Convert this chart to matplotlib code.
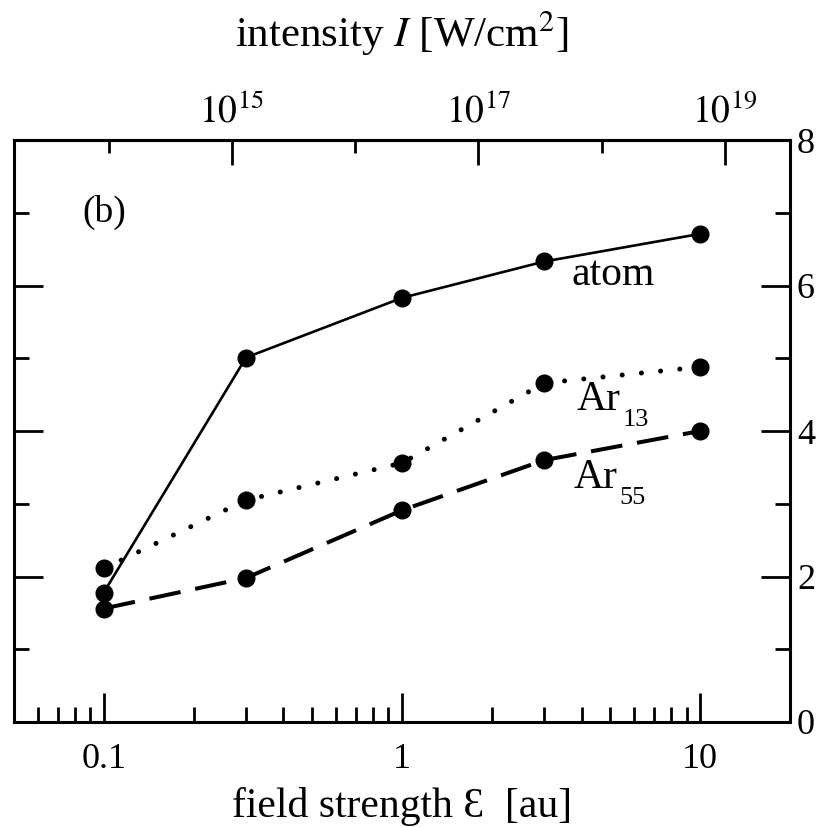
import numpy as np
import matplotlib
matplotlib.use("Agg")
import matplotlib.pyplot as plt
from matplotlib.ticker import FixedLocator, NullFormatter, LogLocator

# field strength in atomic units
field = [0.1, 0.3, 1, 3, 10]
# mean values for the isolated atom and the two clusters
atom = [1.78, 5.01, 5.83, 6.33, 6.71]
ar13 = [2.11, 3.05, 3.56, 4.66, 4.88]
ar55 = [1.56, 1.98, 2.91, 3.60, 4.00]

x_ticks = [0.1, 1, 10]
x_ticklabels = ["0.1", "1", "10"]
y_major = [0, 2, 4, 6, 8]
y_minor = [1, 3, 5, 7]
intensity_major = [1e15, 1e17, 1e19]
intensity_labels = [r"$10^{15}$", r"$10^{17}$", r"$10^{19}$"]
intensity_minor = [1e14, 1e16, 1e18]

plt.rcParams["font.family"] = ["Liberation Serif", "DejaVu Serif"]
plt.rcParams["mathtext.fontset"] = "stix"

fig = plt.figure(figsize=(8.32, 8.27), dpi=100)
ax = fig.add_axes([14 / 832, 1 - 722 / 827, 776 / 832, 582 / 827])
ax.set_xscale("log")
ax.set_xlim(0.05, 20)
ax.set_ylim(0, 8)

lw_axis = 2.2
for s in ax.spines.values():
    s.set_linewidth(lw_axis)

ax.plot(field, atom, "-", color="black", lw=1.9, marker="o", ms=12,
        solid_capstyle="round")
ax.plot(field, ar13, color="black", lw=3.6, marker="o", ms=12,
        linestyle=(0, (0.01, 3.85)), dash_capstyle="round")
ax.plot(field, ar55, color="black", lw=2.9, marker="o", ms=12,
        linestyle=(0, (7.9, 3.7)), dash_capstyle="butt")

lab_size = 30
sub_size = 19
ax.text(3.71, 6.01, "atom", ha="left", va="baseline", fontsize=lab_size)
for x0, y0, sub in [(3.85, 4.29, "13"), (3.77, 3.21, "55")]:
    t = ax.text(x0, y0, "Ar", ha="left", va="baseline", fontsize=lab_size)
    ax.annotate(sub, xy=(1.0, 0.0), xycoords=t, xytext=(1.5, -5),
                textcoords="offset points", ha="left", va="baseline",
                fontsize=sub_size)
ax.text(0.1, 7.0, "(b)", ha="center", va="center", fontsize=27)

# bottom axis: field strength
ax.set_xticks(x_ticks, labels=x_ticklabels)
ax.xaxis.set_minor_locator(LogLocator(base=10, subs=np.arange(2, 10)))
ax.xaxis.set_minor_formatter(NullFormatter())
ax.tick_params(axis="x", which="both", direction="in", top=False,
               bottom=True, labelsize=26, pad=15)
ax.tick_params(axis="x", which="major", length=21, width=2)
ax.tick_params(axis="x", which="minor", length=10.5, width=2)

# y axis: ticks on both sides, labels on the right
ax.set_yticks(y_major)
ax.yaxis.set_minor_locator(FixedLocator(y_minor))
ax.tick_params(axis="y", which="both", direction="in", left=True,
               right=True, labelleft=False, labelright=True,
               labelsize=26, pad=5)
ax.tick_params(axis="y", which="major", length=21, width=2)
ax.tick_params(axis="y", which="minor", length=10.5, width=2)

ax.set_xlabel("field strength Ɛ  [au]", fontsize=30, labelpad=8)

# top axis: laser intensity, a power law of the field strength
I_ref, E_ref, p = 1e19, 12.09, 2.42


def e_to_i(e):
    return I_ref * (np.asarray(e, dtype=float) / E_ref) ** p


def i_to_e(i):
    return E_ref * (np.asarray(i, dtype=float) / I_ref) ** (1.0 / p)


sec = ax.secondary_xaxis("top", functions=(e_to_i, i_to_e))
sec.set_xticks(intensity_major, labels=intensity_labels)
sec.xaxis.set_minor_locator(FixedLocator(intensity_minor))
sec.xaxis.set_minor_formatter(NullFormatter())
sec.tick_params(axis="x", which="both", direction="in", labelsize=27, pad=7)
sec.tick_params(axis="x", which="major", length=18, width=2)
sec.tick_params(axis="x", which="minor", length=9, width=2)
sec.spines["top"].set_linewidth(lw_axis)
sec.set_xlabel(r"intensity $I$ [W/cm$^2$]", fontsize=31, labelpad=33)

fig.savefig("out.png", dpi=100)
